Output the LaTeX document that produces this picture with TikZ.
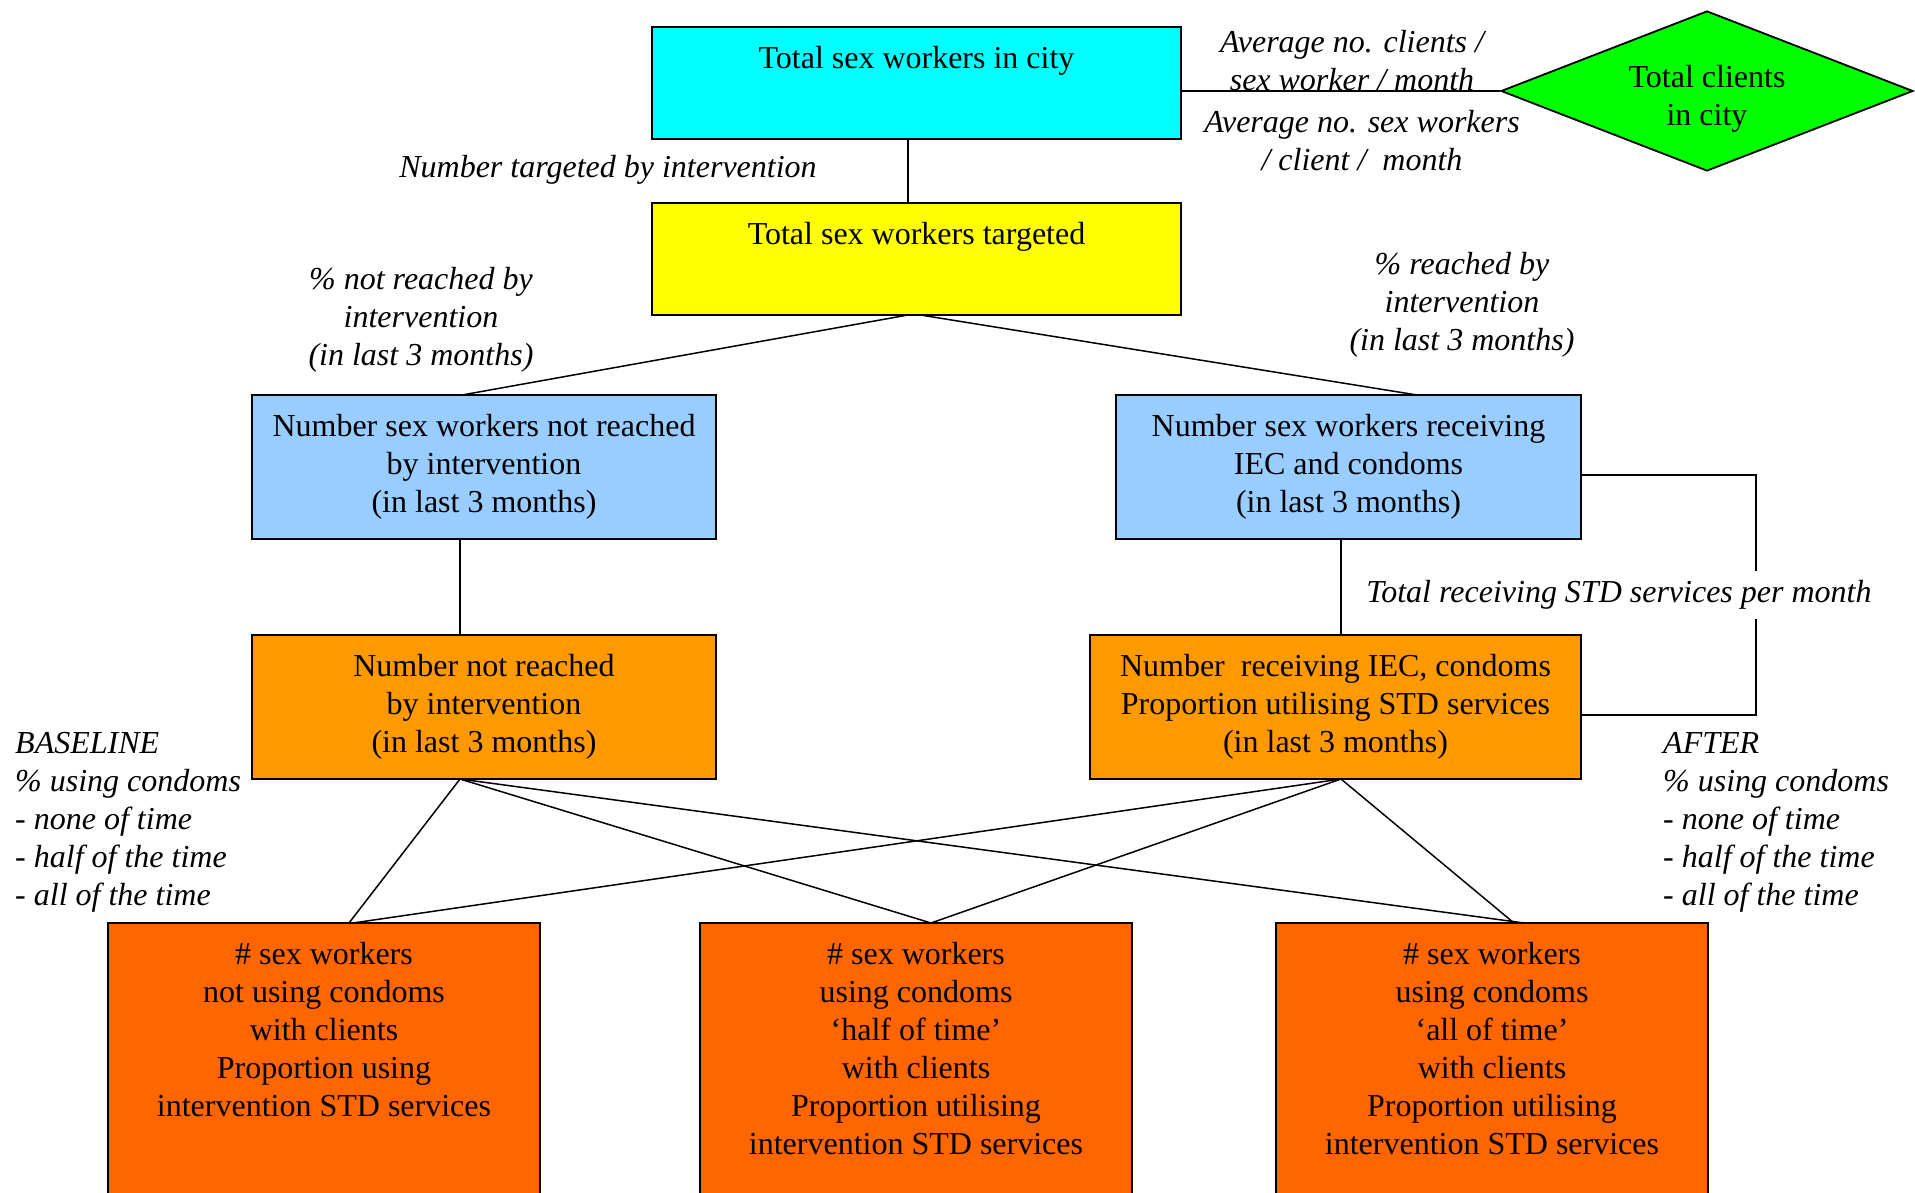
\documentclass[tikz,border=0pt]{standalone}
\usepackage{fontspec}
\setmainfont{Liberation Serif}
\usetikzlibrary{shapes.geometric}
\definecolor{cCyan}{RGB}{0,255,255}
\definecolor{cYellow}{RGB}{255,255,0}
\definecolor{cGreen}{RGB}{0,255,0}
\definecolor{cBlue}{RGB}{153,204,255}
\definecolor{cOrange}{RGB}{255,153,0}
\definecolor{cRed}{RGB}{255,102,0}
\begin{document}
\begin{tikzpicture}[x=1pt,y=-1pt,
  font=\fontsize{32}{38}\selectfont,
  box/.style={draw=black, line width=1.8pt, rectangle, inner sep=0pt, outer sep=0pt, anchor=north west, align=center, font=\fontsize{32}{38}\selectfont},
  toplbl/.style={anchor=north, yshift=-19pt, inner sep=0pt, align=center, font=\fontsize{32}{38}\selectfont},
  ctrlbl/.style={anchor=center, yshift=-8pt, inner sep=0pt, align=center, font=\fontsize{32}{38}\selectfont},
  conn/.style={draw=black, line width=1.5pt},
  note/.style={font=\fontsize{32}{38}\selectfont\itshape, align=center, inner sep=0pt},
  lnote/.style={font=\fontsize{32}{38}\selectfont\itshape, align=left, inner sep=0pt, anchor=west}]
\useasboundingbox (0,0) rectangle (1915,1193);
\clip (0,0) rectangle (1915,1193);
\fill[white] (0,0) rectangle (1915,1193);

% boxes
\node[box, fill=cCyan, minimum width=529pt, minimum height=112pt,
  label={[toplbl]north:{Total sex workers in city}}] (city) at (652,27) {};
\node[box, fill=cYellow, minimum width=529pt, minimum height=112pt,
  label={[toplbl]north:{Total sex workers targeted}}] (targ) at (652,203) {};
\node[diamond, draw=black, line width=1.8pt, fill=cGreen, aspect=2.575,
  minimum width=412pt, minimum height=160pt, inner sep=0pt,
  label={[ctrlbl]center:{Total clients\\in city}}] (cl) at (1707,91) {};

\node[box, fill=cBlue, minimum width=464pt, minimum height=144pt] (nr) at (252,395)
  {Number sex workers not reached\\by intervention\\(in last 3 months)};
\node[box, fill=cBlue, minimum width=465pt, minimum height=144pt] (rc) at (1116,395)
  {Number sex workers receiving\\IEC and condoms\\(in last 3 months)};
\node[box, fill=cOrange, minimum width=464pt, minimum height=144pt] (onr) at (252,635)
  {Number not reached\\by intervention\\(in last 3 months)};
\node[box, fill=cOrange, minimum width=491pt, minimum height=144pt] (orc) at (1090,635)
  {Number\ \ receiving IEC, condoms\\Proportion utilising STD services\\(in last 3 months)};

\node[box, fill=cRed, minimum width=432pt, minimum height=290pt,
  label={[toplbl]north:{\# sex workers\\not using condoms\\with clients\\Proportion using\\intervention STD services}}] (b1) at (108,923) {};
\node[box, fill=cRed, minimum width=432pt, minimum height=290pt,
  label={[toplbl]north:{\# sex workers\\using condoms\\‘half of time’\\with clients\\Proportion utilising\\intervention STD services}}] (b2) at (700,923) {};
\node[box, fill=cRed, minimum width=432pt, minimum height=290pt,
  label={[toplbl]north:{\# sex workers\\using condoms\\‘all of time’\\with clients\\Proportion utilising\\intervention STD services}}] (b3) at (1276,923) {};

% connectors
\draw[conn] (cl.west) -- (cl.west -| city.east);
\draw[conn] ([xshift=-8.5pt]city.south) -- ([xshift=-8.5pt]targ.north);
\draw[conn] ([xshift=-8.5pt]targ.south) -- ([xshift=-22pt]nr.north);
\draw[conn] ([xshift=4pt]targ.south) -- ([xshift=68.5pt]rc.north);
\draw[conn] ([xshift=-24pt]nr.south) -- ([xshift=-24pt]onr.north);
\draw[conn] ([xshift=-7.5pt]rc.south) -- ([xshift=5.5pt]orc.north);
\draw[conn] ([yshift=-8pt]rc.east) -- ++(175,0) |- ([yshift=-8pt]orc.east);

\draw[conn] ([xshift=-24pt]onr.south) -- ([xshift=25pt]b1.north);
\draw[conn] ([xshift=-24pt]onr.south) -- ([xshift=15pt]b2.north);
\draw[conn] ([xshift=-24pt]onr.south) -- ([xshift=32pt]b3.north);
\draw[conn] ([xshift=5.5pt]orc.south) -- ([xshift=29pt]b1.north);
\draw[conn] ([xshift=5.5pt]orc.south) -- ([xshift=15pt]b2.north);
\draw[conn] ([xshift=5.5pt]orc.south) -- ([xshift=22pt]b3.north);

% labels
\node[note] (l1) at (1352,61) {Average no. clients /\\sex worker / month};
\node[note] (l2) at (1362,141) {Average no. sex workers\\/ client /\ \ month};
\node[note] (l3) at (608,170) {Number targeted by intervention};
\node[note] (l4) at (421,320) {\% not reached by\\intervention\\(in last 3 months)};
\node[note] (l5) at (1462,305) {\% reached by\\intervention\\(in last 3 months)};
\node[note, fill=white, inner xsep=2pt, inner ysep=9.5pt] (l6) at (1619,595) {Total receiving STD services per month};
\node[lnote] (l7) at (15,822) {BASELINE\\\% using condoms\\- none of time\\- half of the time\\- all of the time};
\node[lnote] (l8) at (1663,822) {AFTER\\\% using condoms\\- none of time\\- half of the time\\- all of the time};
\end{tikzpicture}
\end{document}
